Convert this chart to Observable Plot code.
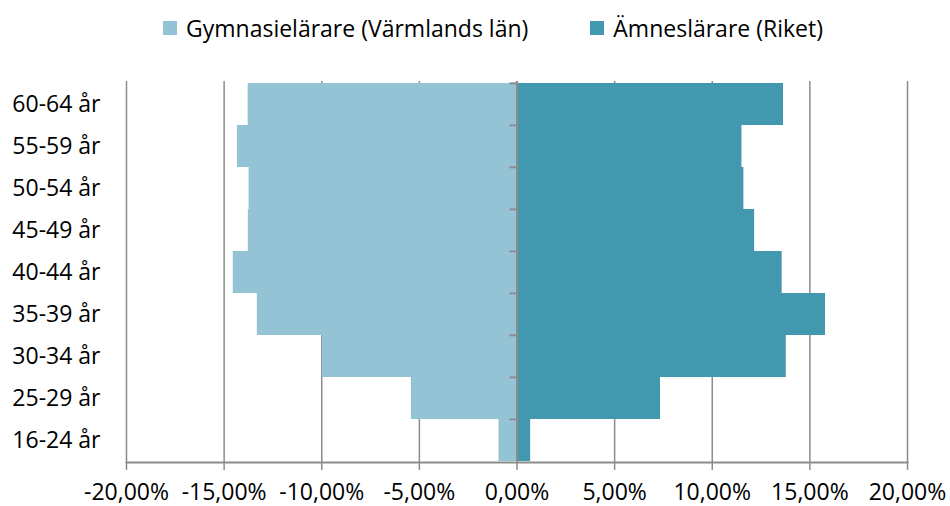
<!DOCTYPE html>
<html><head><meta charset="utf-8">
<script src="https://cdn.jsdelivr.net/npm/d3@7"></script>
<script src="https://cdn.jsdelivr.net/npm/@observablehq/plot@0.6"></script>
<style>
body{margin:0;background:#fff;font-family:"Open Sans",sans-serif;}
#legend{height:56px;display:flex;align-items:center;padding-left:163px;gap:62px;font-size:23px;color:#000;box-sizing:border-box}
.item{display:flex;align-items:center;white-space:nowrap}
.sw{width:14px;height:14px;margin-right:9px;display:inline-block}
#chart svg{display:block}
</style></head><body>
<div id="legend"></div>
<div id="chart"></div>
<script>
const ageGroups = ["60-64 år","55-59 år","50-54 år","45-49 år","40-44 år","35-39 år","30-34 år","25-29 år","16-24 år"];
const gymnasielarare = [13.77,14.32,13.72,13.76,14.53,13.30,9.98,5.41,0.92];
const amneslarare = [13.65,11.52,11.62,12.17,13.58,15.80,13.79,7.35,0.70];
const seriesNames = ["Gymnasielärare (Värmlands län)","Ämneslärare (Riket)"];
const seriesColors = ["#93C3D5","#4298AF"];
const xTicks = [-20,-15,-10,-5,0,5,10,15,20];

const leftData = ageGroups.map((a,i)=>({age:a, value:-gymnasielarare[i]}));
const rightData = ageGroups.map((a,i)=>({age:a, value:amneslarare[i]}));

const legend = document.getElementById("legend");
seriesNames.forEach((n,i)=>{
  const it = document.createElement("div"); it.className="item";
  const sw = document.createElement("span"); sw.className="sw"; sw.style.background=seriesColors[i];
  it.appendChild(sw); it.appendChild(document.createTextNode(n));
  legend.appendChild(it);
});

const W=950, H=450, mt=25, mb=44;
const bw=(H-mt-mb)/ageGroups.length;
const grey="#8c8c8c";
const fmt = d => d.toFixed(2).replace(".", ",") + "%";

const chart = Plot.plot({
  width:W, height:H,
  marginLeft:126, marginRight:43, marginTop:mt, marginBottom:mb,
  style:{fontFamily:"Open Sans", fontSize:"23px", color:"#000", background:"#fff"},
  x:{domain:[-20,20], label:null},
  y:{domain:ageGroups, padding:0, label:null},
  marks:[
    Plot.ruleX(xTicks.filter(d=>d!==0), {stroke:grey, strokeWidth:1.5}),
    Plot.barX(leftData, {x1:0, x2:"value", y:"age", fill:seriesColors[0]}),
    Plot.barX(rightData, {x1:0, x2:"value", y:"age", fill:seriesColors[1]}),
    Plot.ruleX([0], {stroke:grey, strokeWidth:2}),
    Plot.ruleY(ageGroups, {y:d=>d, x1:()=>0, x2:()=>0, insetLeft:-7, dy:-bw/2, stroke:grey, strokeWidth:2}),
    Plot.frame({anchor:"bottom", stroke:grey, strokeWidth:2}),
    Plot.axisX({ticks:xTicks, tickFormat:fmt, tickSize:8, tickPadding:13, stroke:grey, strokeWidth:1.5, label:null}),
    Plot.axisY({anchor:"left", tickSize:0, tickPadding:26, label:null})
  ]
});
document.getElementById("chart").appendChild(chart);
</script>
</body></html>
